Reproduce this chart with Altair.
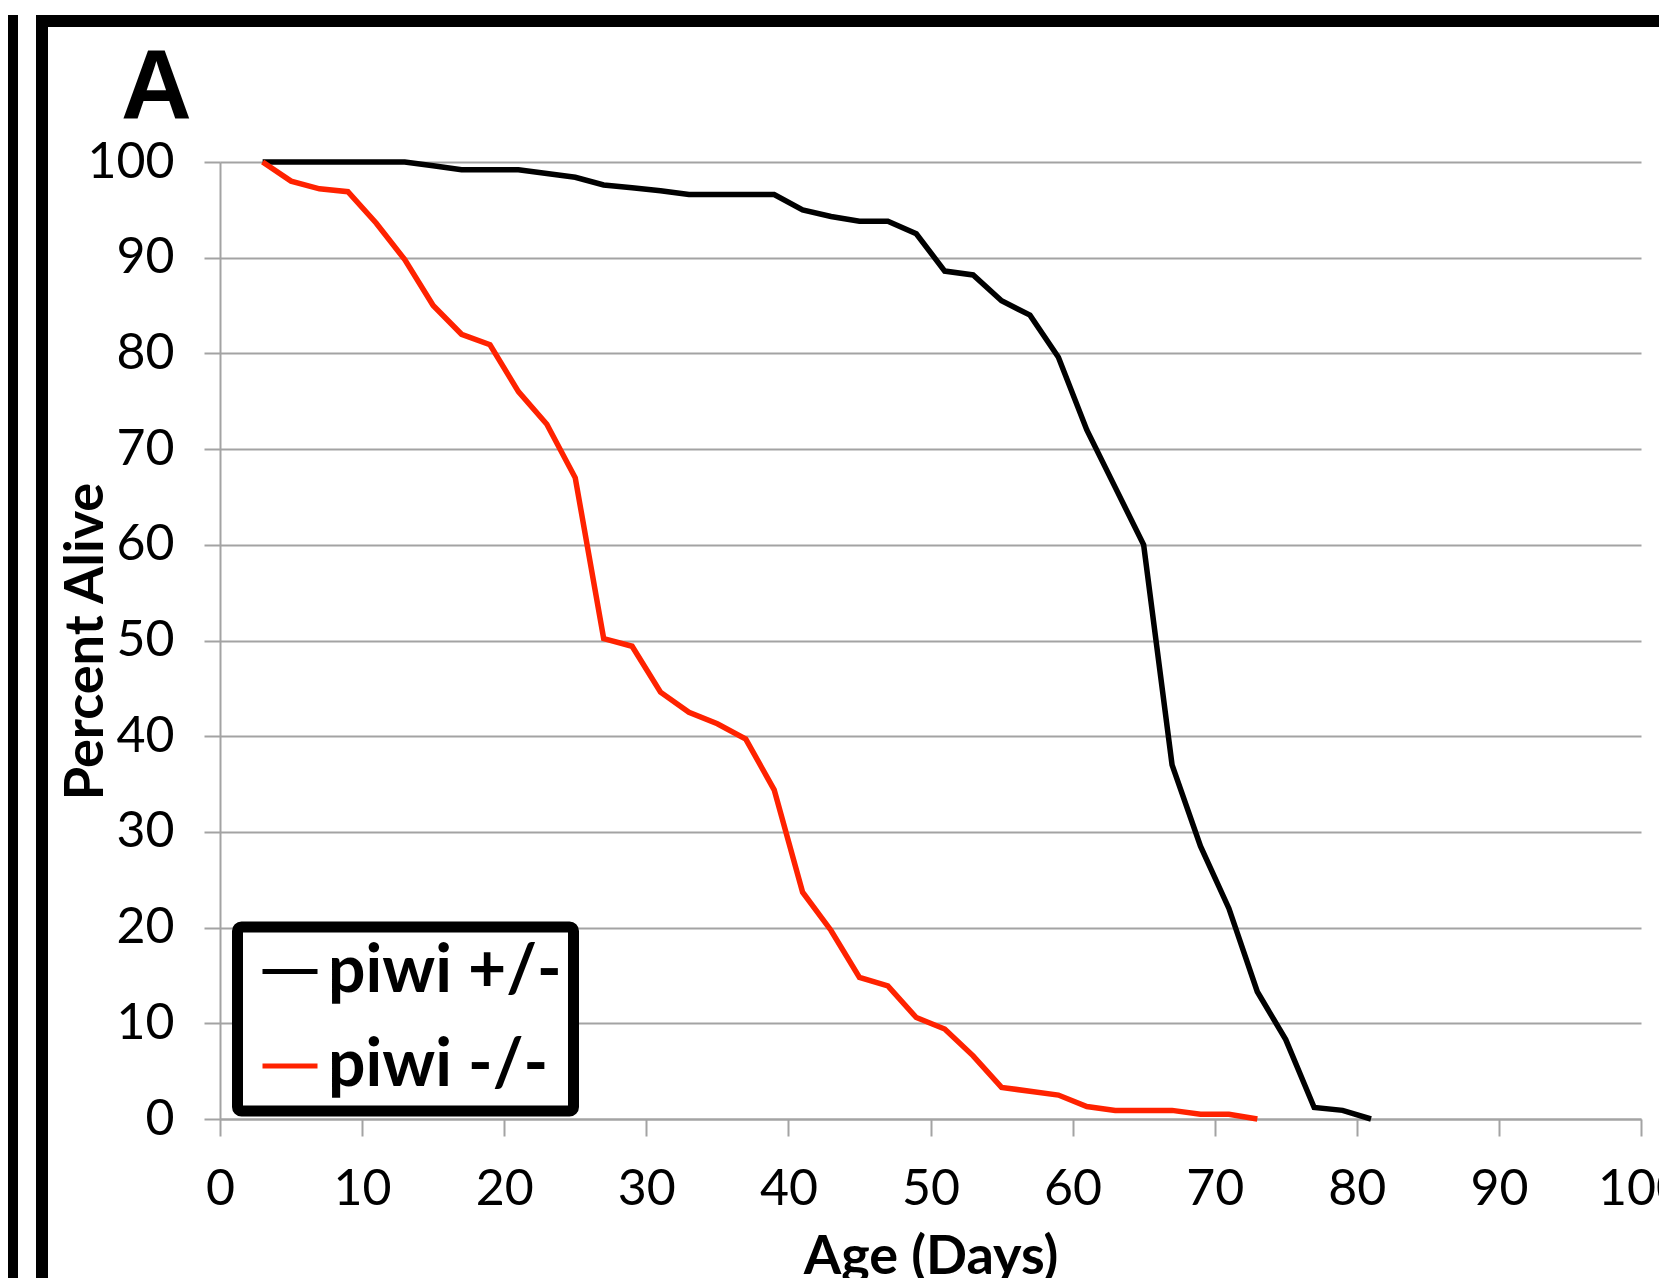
import altair as alt
import pandas as pd

# ---- data ----
days_het = [3, 5, 7, 9, 11, 13, 15, 17, 19, 21, 23, 25, 27, 29, 31, 33, 35, 37, 39, 41,
            43, 45, 47, 49, 51, 53, 55, 57, 59, 61, 63, 65, 67, 69, 71, 73, 75, 77, 79, 81]
pct_het = [100, 100, 100, 100, 100, 100, 99.6, 99.2, 99.2, 99.2, 98.8, 98.4, 97.6, 97.3,
           97.0, 96.6, 96.6, 96.6, 96.6, 95.0, 94.3, 93.8, 93.8, 92.5, 88.6, 88.2, 85.5,
           84.0, 79.6, 72.0, 66.0, 60.0, 37.0, 28.5, 22.0, 13.3, 8.3, 1.2, 0.9, 0]

days_mut = [3, 5, 7, 9, 11, 13, 15, 17, 19, 21, 23, 25, 27, 29, 31, 33, 35, 37, 39, 41,
            43, 45, 47, 49, 51, 53, 55, 57, 59, 61, 63, 65, 67, 69, 71, 73]
pct_mut = [100, 98.0, 97.2, 96.9, 93.6, 89.8, 85.0, 82.0, 80.9, 76.0, 72.6, 67.0, 50.2,
           49.4, 44.6, 42.5, 41.3, 39.7, 34.4, 23.7, 19.7, 14.8, 13.9, 10.6, 9.4, 6.6,
           3.3, 2.9, 2.5, 1.3, 0.9, 0.9, 0.9, 0.5, 0.5, 0]

series_names = ["piwi +/-", "piwi -/-"]
series_colors = ["#000000", "#FF2200"]
tick_values = [0, 10, 20, 30, 40, 50, 60, 70, 80, 90, 100]
panel_label = ["A"]

df = pd.concat([
    pd.DataFrame({"day": days_het, "pct": pct_het, "genotype": series_names[0]}),
    pd.DataFrame({"day": days_mut, "pct": pct_mut, "genotype": series_names[1]}),
], ignore_index=True)

W, H = 1421, 957
FONT = "Lato"
GRAY = "#A3A3A3"

lines = alt.Chart(df).mark_line(strokeWidth=5.5, strokeJoin="miter").encode(
    x=alt.X("day:Q",
            scale=alt.Scale(domain=[0, 100], nice=False, zero=False),
            axis=alt.Axis(values=tick_values, grid=False, title="Age (Days)",
                          labelFlush=False, titleBaseline="alphabetic", titleY=154,
                          tickSize=17, labelPadding=28)),
    y=alt.Y("pct:Q",
            scale=alt.Scale(domain=[0, 100], nice=False),
            axis=alt.Axis(values=tick_values, grid=True, title="Percent Alive",
                          titleBaseline="alphabetic", titleX=-118, titleY=479,
                          titleAlign="center", tickSize=16, labelPadding=30)),
    color=alt.Color("genotype:N",
                    scale=alt.Scale(domain=series_names, range=series_colors),
                    legend=alt.Legend(title=None, orient="none", legendX=17.5,
                                      legendY=765)),
    order="day:Q",
)

label_a = alt.Chart(pd.DataFrame({"t": panel_label})).mark_text(
    font="Liberation Sans", fontWeight="bold", fontSize=98, align="left",
    baseline="alphabetic", color="black"
).encode(text="t:N", x=alt.value(-99), y=alt.value(-44))

frame_df = pd.DataFrame({"k": [0]})
bar_top = alt.Chart(frame_df).mark_rule(color="black", strokeWidth=12).encode(
    x=alt.value(-184), x2=alt.value(1460), y=alt.value(-141))
bar_inner = alt.Chart(frame_df).mark_rule(color="black", strokeWidth=12).encode(
    x=alt.value(-178), y=alt.value(-147), y2=alt.value(1200))
bar_outer = alt.Chart(frame_df).mark_rule(color="black", strokeWidth=10).encode(
    x=alt.value(-207), y=alt.value(-147), y2=alt.value(1200))

chart = alt.layer(lines, label_a, bar_top, bar_inner, bar_outer).properties(
    width=W, height=H,
    autosize=alt.AutoSizeParams(type="none"),
    padding={"left": 212, "top": 154, "right": 18, "bottom": 159},
).configure_view(strokeWidth=0).configure_axis(
    domainColor=GRAY, domainWidth=2, tickColor=GRAY, tickWidth=2,
    gridColor=GRAY, gridWidth=2,
    labelFont=FONT, labelFontSize=50, labelColor="black",
    titleFont=FONT, titleFontSize=54, titleFontWeight="bold", titleColor="black",
).configure_legend(
    strokeColor="black", strokeWidth=11, fillColor="white", cornerRadius=4,
    padding=11.5, symbolOffset=8, symbolType="stroke", symbolSize=3025,
    symbolStrokeWidth=5,
    labelFont=FONT, labelFontSize=66, labelFontWeight="bold", labelColor="black",
    labelOffset=5, rowPadding=28.5, labelLimit=500,
)

chart.save("out.html", embed_options={"renderer": "svg", "actions": False})
